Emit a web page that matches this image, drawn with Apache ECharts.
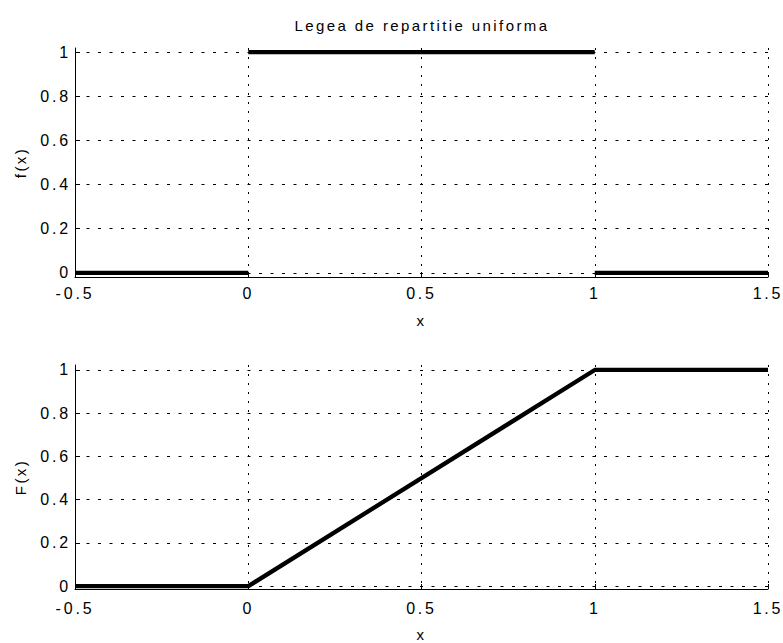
<!DOCTYPE html>
<html>
<head>
<meta charset="utf-8">
<script src="https://cdn.jsdelivr.net/npm/echarts@6/dist/echarts.min.js"></script>
<style>
html,body{margin:0;padding:0;background:#fff;}
#c{width:783px;height:643px;}
#c text[style*="15px"]{letter-spacing:2.4px;}
#c text[style*="16px"]{letter-spacing:2.8px;}
</style>
</head>
<body>
<div id="c"></div>
<script>
// ---- data ----
const titleText = 'Legea de repartitie uniforma';
const xMin = -0.5, xMax = 1.5, xStep = 0.5;
const yTicks = [0, 0.2, 0.4, 0.6, 0.8, 1];
// f(x): piecewise constant segments
const pdfSegX = [[-0.5, 0], [0, 1], [1, 1.5]];
const pdfSegY = [0, 1, 0];
// F(x): polyline
const cdfX = [-0.5, 0, 1, 1.5];
const cdfY = [0, 0, 1, 1];

const font = 'Liberation Sans, Arial, sans-serif';
const black = '#000';

function xAxisCfg(idx, margin, nameGap) {
  return {
    gridIndex: idx, type: 'value', min: xMin, max: xMax, interval: xStep,
    name: 'x', nameLocation: 'middle', nameGap: nameGap,
    nameTextStyle: {color: black, fontSize: 15, fontFamily: font},
    axisLine: {onZero: false, lineStyle: {color: black, width: 1}},
    axisTick: {inside: true, length: 5, lineStyle: {color: black}},
    axisLabel: {color: black, fontSize: 16, fontFamily: font, margin: margin},
    splitLine: {show: true, lineStyle: {color: black, width: 1, type: [2, 7]}}
  };
}
function yAxisCfg(idx, name, mn, mx) {
  return {
    gridIndex: idx, type: 'value', min: mn, max: mx,
    name: name, nameLocation: 'middle', nameGap: 47,
    nameTextStyle: {color: black, fontSize: 15, fontFamily: font},
    axisLine: {show: true, onZero: false, lineStyle: {color: black, width: 1}},
    axisTick: {show: true, inside: true, length: 5, customValues: yTicks, lineStyle: {color: black}},
    axisLabel: {color: black, fontSize: 16, fontFamily: font, margin: 4, customValues: yTicks,
      formatter: v => String(+v.toFixed(2))},
    splitLine: {show: true, lineStyle: {color: black, width: 1, type: [3, 8.5]}}
  };
}

const series = [];
pdfSegX.forEach((seg, i) => {
  series.push({
    type: 'line', xAxisIndex: 0, yAxisIndex: 0, symbol: 'none', animation: false,
    lineStyle: {color: black, width: 4.3},
    data: [[seg[0], pdfSegY[i]], [seg[1], pdfSegY[i]]]
  });
});
series.push({
  type: 'line', xAxisIndex: 1, yAxisIndex: 1, symbol: 'none', animation: false,
  lineStyle: {color: black, width: 4.3},
  data: cdfX.map((x, i) => [x, cdfY[i]])
});

const chart = echarts.init(document.getElementById('c'), null, {renderer: 'svg'});
chart.setOption({
  backgroundColor: '#fff',
  animation: false,
  title: {text: titleText, left: 417, textAlign: 'center', top: 13,
    textStyle: {color: black, fontSize: 15, fontWeight: 'normal', fontFamily: font}},
  grid: [
    {left: 75, top: 48, width: 693, height: 229},
    {left: 75, top: 365, width: 693, height: 229}
  ],
  xAxis: [xAxisCfg(0, 8, 36), xAxisCfg(1, 11, 38)],
  yAxis: [yAxisCfg(0, 'f(x)', -0.019, 1.019), yAxisCfg(1, 'F(x)', -0.013, 1.023)],
  series: series
});
</script>
</body>
</html>
